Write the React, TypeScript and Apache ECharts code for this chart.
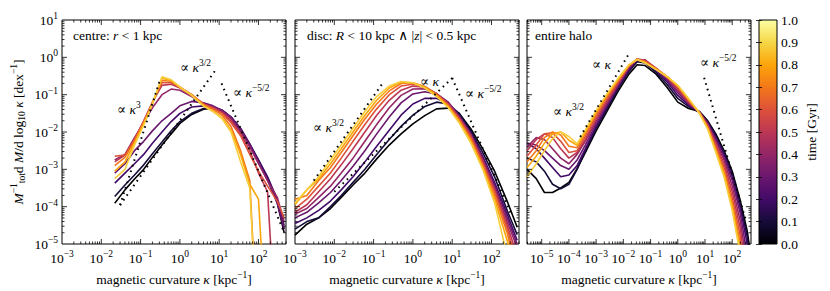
import React, { useEffect, useRef } from 'react';
import * as echarts from 'echarts';

const FONT = "'Liberation Serif', 'DejaVu Serif', serif";

// snapshot times [Gyr]
const TIMES = [0, 0.1, 0.2, 0.3, 0.4, 0.5, 0.6, 0.7, 0.8, 0.88];
const COLORBAR_TICKS = [0, 0.1, 0.2, 0.3, 0.4, 0.5, 0.6, 0.7, 0.8, 0.9, 1.0];
const INFERNO = ['#000004', '#160b39', '#420a68', '#6a176e', '#932667', '#bc3754', '#dd513a', '#f37819', '#fca50a', '#f6d746', '#fcffa4'];

// ---------- centre: r < 1 kpc ----------
const CENTRE_KAPPA = [0.022, 0.04, 0.07, 0.12, 0.2, 0.35, 0.6, 1, 2, 4, 7, 12, 20, 35, 60, 100, 170, 300, 450];
// log10 of the pdf, one row per time
const CENTRE_LOG_PDF = [
  [-3.91, -3.55, -3.26, -3.0, -2.68, -2.35, -2.05, -1.77, -1.53, -1.39, -1.36, -1.43, -1.62, -1.95, -2.37, -2.8, -3.25, -3.9, -4.7],
  [-3.73, -3.42, -3.15, -2.88, -2.58, -2.27, -1.97, -1.72, -1.5, -1.37, -1.35, -1.42, -1.6, -1.92, -2.33, -2.76, -3.22, -3.85, -4.6],
  [-3.37, -3.1, -2.85, -2.6, -2.3, -2.0, -1.72, -1.5, -1.33, -1.3, -1.33, -1.42, -1.6, -1.9, -2.32, -2.75, -3.2, -3.8, -4.5],
  [-3.1, -2.85, -2.5, -2.25, -1.97, -1.7, -1.5, -1.3, -1.18, -1.22, -1.3, -1.42, -1.6, -1.92, -2.35, -2.8, -3.3, -3.9, -4.6],
  [-2.75, -2.6, -2.15, -1.75, -1.35, -1.0, -0.85, -0.88, -1.05, -1.25, -1.33, -1.45, -1.65, -2.0, -2.4, -2.85, -3.3, -3.75, -4.4],
  [-2.8, -2.62, -2.2, -1.7, -1.2, -0.75, -0.72, -0.82, -1.02, -1.25, -1.35, -1.48, -1.7, -2.05, -2.5, -3.1, -3.6, -8],
  [-2.65, -2.62, -2.2, -1.72, -1.22, -0.68, -0.68, -0.8, -1.0, -1.25, -1.37, -1.5, -1.75, -2.1, -2.6, -3.05, -3.45, -3.85, -4.3],
  [-2.9, -2.68, -2.25, -1.75, -1.23, -0.62, -0.64, -0.8, -1.0, -1.27, -1.4, -1.55, -1.85, -2.5, -3.3, -8],
  [-3.05, -2.8, -2.3, -1.78, -1.24, -0.56, -0.62, -0.8, -1.02, -1.3, -1.45, -1.62, -1.95, -2.6, -3.4, -3.8, -8],
  [-3.25, -3.0, -2.35, -1.82, -1.25, -0.52, -0.6, -0.8, -1.02, -1.3, -1.45, -1.65, -2.0, -2.8, -3.5, -8],
];
const CENTRE_GUIDE_K3 = [[0.03, 1.1e-4], [0.32, 0.27]];
const CENTRE_GUIDE_K32 = [[0.03, 1.1e-4], [8.6, 0.5]];
const CENTRE_GUIDE_KM52 = [[11.5, 0.2], [430, 2.3e-5]];

// ---------- disc ----------
const DISC_KAPPA = [0.001, 0.002, 0.004, 0.008, 0.015, 0.03, 0.06, 0.12, 0.25, 0.5, 1, 2, 4, 8, 15, 30, 60, 120, 250, 450];
const DISC_LOG_PDF = [
  [-4.76, -4.47, -4.3, -4.05, -3.75, -3.42, -3.1, -2.72, -2.35, -2.05, -1.78, -1.56, -1.38, -1.36, -1.5, -1.92, -2.45, -3.05, -3.85, -4.55],
  [-4.6, -4.4, -4.3, -4.0, -3.7, -3.35, -3.0, -2.6, -2.2, -1.85, -1.55, -1.32, -1.2, -1.25, -1.5, -1.98, -2.55, -3.2, -4.1, -4.75],
  [-4.45, -4.3, -4.1, -3.85, -3.55, -3.2, -2.8, -2.38, -1.95, -1.55, -1.25, -1.1, -1.1, -1.25, -1.57, -2.03, -2.65, -3.35, -4.2, -4.9],
  [-4.3, -4.15, -3.9, -3.62, -3.3, -2.92, -2.5, -2.05, -1.6, -1.22, -0.98, -0.92, -0.98, -1.2, -1.57, -2.05, -2.7, -3.42, -4.3, -5.0],
  [-4.2, -4.05, -3.75, -3.45, -3.1, -2.7, -2.25, -1.8, -1.35, -1.02, -0.85, -0.84, -0.97, -1.22, -1.6, -2.08, -2.75, -3.5, -4.4, -5.1],
  [-4.15, -3.95, -3.6, -3.25, -2.88, -2.45, -2.0, -1.55, -1.15, -0.88, -0.77, -0.8, -0.97, -1.25, -1.62, -2.1, -2.78, -3.55, -4.5, -5.3],
  [-4.05, -3.8, -3.45, -3.1, -2.7, -2.25, -1.8, -1.38, -1.0, -0.77, -0.72, -0.78, -0.98, -1.28, -1.65, -2.15, -2.85, -3.6, -4.6, -5.5],
  [-3.8, -3.7, -3.3, -2.95, -2.55, -2.1, -1.65, -1.25, -0.9, -0.7, -0.68, -0.78, -1.0, -1.3, -1.68, -2.2, -2.9, -3.7, -4.7, -5.8],
  [-3.95, -3.55, -3.25, -2.85, -2.45, -2.0, -1.55, -1.15, -0.82, -0.67, -0.68, -0.8, -1.02, -1.33, -1.72, -2.25, -2.95, -3.8, -4.9, -6],
  [-3.9, -3.55, -3.2, -2.75, -2.35, -1.9, -1.45, -1.05, -0.77, -0.65, -0.68, -0.82, -1.05, -1.35, -1.75, -2.3, -3.0, -3.9, -5.3, -7],
];
const DISC_GUIDE_K32 = [[0.003, 5e-4], [0.18, 0.22]];
const DISC_GUIDE_K1 = [[0.01, 2.5e-4], [10, 0.28]];
const DISC_GUIDE_KM52 = [[10, 0.28], [310, 6.6e-5]];

// ---------- entire halo ----------
const HALO_KAPPA = [2.9e-6, 6.3e-6, 1.26e-5, 2.5e-5, 5e-5, 1e-4, 2e-4, 4e-4, 1e-3, 2.5e-3, 6.3e-3, 1.6e-2, 3.2e-2, 6.3e-2, 0.16, 0.4, 1, 2.5, 6.3, 12.6, 25, 50, 100, 200, 355, 480];
const HALO_LOG_PDF = [
  [-3.0, -3.25, -3.62, -3.62, -3.5, -3.35, -2.98, -2.55, -1.97, -1.45, -0.92, -0.45, -0.2, -0.22, -0.45, -0.8, -1.2, -1.37, -1.45, -1.7, -2.05, -2.5, -3.05, -3.85, -4.65, -5.3],
  [-2.7, -2.8, -3.05, -3.4, -3.52, -3.4, -3.0, -2.5, -1.9, -1.38, -0.85, -0.38, -0.12, -0.15, -0.4, -0.72, -1.1, -1.32, -1.47, -1.72, -2.1, -2.55, -3.1, -3.95, -4.8, -5.6],
  [-2.3, -2.45, -2.7, -2.95, -3.2, -3.15, -2.9, -2.45, -1.85, -1.32, -0.8, -0.33, -0.08, -0.1, -0.35, -0.65, -1.02, -1.28, -1.47, -1.75, -2.15, -2.6, -3.2, -4.05, -5.0, -6],
  [-2.3, -2.35, -2.5, -2.7, -2.9, -3.0, -2.75, -2.35, -1.78, -1.28, -0.77, -0.3, -0.06, -0.08, -0.32, -0.6, -0.95, -1.25, -1.47, -1.77, -2.2, -2.68, -3.3, -4.2, -5.3, -7],
  [-2.4, -2.15, -2.2, -2.45, -2.7, -2.85, -2.6, -2.25, -1.72, -1.22, -0.73, -0.27, -0.05, -0.07, -0.3, -0.56, -0.9, -1.22, -1.47, -1.8, -2.25, -2.75, -3.45, -4.4, -5.6, -8],
  [-2.5, -2.2, -2.05, -2.15, -2.45, -2.7, -2.55, -2.2, -1.65, -1.17, -0.7, -0.25, -0.05, -0.08, -0.29, -0.53, -0.85, -1.2, -1.48, -1.82, -2.32, -2.85, -3.6, -4.6, -6, -8],
  [-2.65, -2.35, -2.05, -2.02, -2.25, -2.55, -2.5, -2.12, -1.58, -1.1, -0.66, -0.23, -0.05, -0.1, -0.3, -0.52, -0.8, -1.17, -1.48, -1.85, -2.38, -2.95, -3.75, -4.8, -7, -8],
  [-2.8, -2.5, -2.15, -2.0, -2.08, -2.38, -2.42, -2.05, -1.52, -1.05, -0.62, -0.22, -0.05, -0.12, -0.31, -0.51, -0.77, -1.13, -1.49, -1.88, -2.45, -3.05, -3.9, -5.0, -7, -8],
  [-2.95, -2.65, -2.3, -2.05, -2.0, -2.22, -2.36, -2.0, -1.47, -1.0, -0.6, -0.21, -0.06, -0.14, -0.32, -0.51, -0.76, -1.12, -1.5, -1.9, -2.5, -3.12, -4.0, -5.2, -8, -8],
  [-3.2, -2.85, -2.5, -2.18, -2.0, -2.12, -2.32, -1.95, -1.43, -0.98, -0.57, -0.2, -0.06, -0.15, -0.33, -0.52, -0.75, -1.1, -1.5, -1.92, -2.55, -3.2, -4.1, -5.3, -8, -8],
];
const HALO_GUIDE_K1 = [[2.6e-4, 7.4e-3], [1.5e-2, 1.15]];
const HALO_GUIDE_KM52 = [[9.3, 0.285], [316, 4.3e-5]];

// axis ranges
const PDF_RANGE = [1e-5, 10];
const KAPPA_RANGE_INNER = [1e-3, Math.pow(10, 2.7)];
const KAPPA_RANGE_HALO = [Math.pow(10, -5.54), Math.pow(10, 2.69)];

function hexRgb(h: string) {
  return [parseInt(h.slice(1, 3), 16), parseInt(h.slice(3, 5), 16), parseInt(h.slice(5, 7), 16)];
}
function infernoAt(t: number) {
  const p = Math.max(0, Math.min(1, t)) * 10;
  const i = Math.min(9, Math.floor(p));
  const f = p - i;
  const a = hexRgb(INFERNO[i]);
  const b = hexRgb(INFERNO[i + 1]);
  const c = a.map((v, k) => Math.round(v + (b[k] - v) * f));
  return `rgb(${c[0]},${c[1]},${c[2]})`;
}

const FS = 13.5;
const FS_SUP = 9.5;

const LABEL_RICH = {
  b: { fontFamily: FONT, fontSize: FS, color: '#000', lineHeight: 18 },
  s: { fontFamily: FONT, fontSize: FS_SUP, color: '#000', verticalAlign: 'top', lineHeight: 9 },
  r: { fontFamily: FONT, fontSize: FS, color: '#000', lineHeight: 18 },
  i: { fontFamily: FONT, fontSize: FS, fontStyle: 'italic', color: '#000', lineHeight: 18 },
  u: { fontFamily: FONT, fontSize: FS_SUP, color: '#000', verticalAlign: 'bottom', lineHeight: 11 },
};
const TEXT_RICH = {
  r: { fontFamily: FONT, fontSize: FS, fill: '#000', lineHeight: 18 },
  i: { fontFamily: FONT, fontSize: FS, fontStyle: 'italic', fill: '#000', lineHeight: 18 },
  s: { fontFamily: FONT, fontSize: FS_SUP, fill: '#000', verticalAlign: 'top', lineHeight: 9 },
};

const X_NAME = '{r|magnetic curvature }{i|κ}{r| [kpc}{s|\u22121}{r|]}';
const Y_NAME = '{i|M}{s|\u22121}{u|tot}{r|d }{i|M}{r|/d log}{u|10}{r| }{i|κ}{r| [dex}{s|\u22121}{r|]}';

function powLabel(v: number) {
  const l = Math.log10(v);
  const e = Math.round(l);
  if (Math.abs(l - e) > 1e-6) return '';
  return `{b|10}{s|${e < 0 ? '\u2212' + -e : e}}`;
}

const GRIDS = [
  { left: 62, top: 20, width: 224, height: 224 },
  { left: 295, top: 20, width: 224, height: 224 },
  { left: 527, top: 20, width: 224, height: 224 },
];

function tickSeries(g: number, xr: number[], yr: number[]) {
  return {
    type: 'custom',
    xAxisIndex: g,
    yAxisIndex: g,
    silent: true,
    z: 10,
    data: [[1, 1]],
    renderItem: (_p: any, api: any) => {
      const children: any[] = [];
      const bl = api.coord([xr[0], yr[0]]);
      const tr = api.coord([xr[1], yr[1]]);
      const line = (x1: number, y1: number, x2: number, y2: number) =>
        children.push({ type: 'line', shape: { x1, y1, x2, y2 }, style: { stroke: '#000', lineWidth: 0.8 } });
      const lx0 = Math.log10(xr[0]), lx1 = Math.log10(xr[1]);
      for (let d = Math.floor(lx0); d <= Math.ceil(lx1); d++) {
        for (let m = 1; m <= 9; m++) {
          const v = m * Math.pow(10, d);
          const l = Math.log10(v);
          if (l <= lx0 + 1e-6 || l >= lx1 - 1e-6) continue;
          const px = api.coord([v, yr[0]])[0];
          const len = m === 1 ? 5 : 2.5;
          line(px, bl[1], px, bl[1] - len);
          line(px, tr[1], px, tr[1] + len);
        }
      }
      const ly0 = Math.log10(yr[0]), ly1 = Math.log10(yr[1]);
      for (let d = Math.floor(ly0); d <= Math.ceil(ly1); d++) {
        for (let m = 1; m <= 9; m++) {
          const v = m * Math.pow(10, d);
          const l = Math.log10(v);
          if (l <= ly0 + 1e-6 || l >= ly1 - 1e-6) continue;
          const py = api.coord([xr[0], v])[1];
          const len = m === 1 ? 5 : 2.5;
          line(bl[0], py, bl[0] + len, py);
          line(tr[0], py, tr[0] - len, py);
        }
      }
      return { type: 'group', children };
    },
  };
}

function curveSeries(g: number, xs: number[], rows: number[][]) {
  return rows.map((row, k) => ({
    type: 'line',
    xAxisIndex: g,
    yAxisIndex: g,
    silent: true,
    symbol: 'none',
    showSymbol: false,
    data: row.map((ly, j) => [xs[j], Math.pow(10, ly)]),
    lineStyle: { color: infernoAt(TIMES[k]), width: 1.6 },
    z: 2,
  }));
}

function guideSeries(g: number, pts: number[][]) {
  return {
    type: 'line',
    xAxisIndex: g,
    yAxisIndex: g,
    silent: true,
    symbol: 'none',
    data: pts,
    lineStyle: { color: '#000', width: 2, type: [1.6, 4.2] },
    z: 4,
  };
}

function textEl(x: number, y: number, text: string) {
  return {
    type: 'text',
    x,
    y,
    silent: true,
    style: { text, rich: TEXT_RICH, fontFamily: FONT, fontSize: FS, fill: '#000', align: 'left', verticalAlign: 'middle' },
  };
}

export default function App() {
  const ref = useRef<HTMLDivElement>(null);
  useEffect(() => {
    if (!ref.current) return;
    const chart = echarts.init(ref.current, undefined, { renderer: 'svg' });
    const xRanges = [KAPPA_RANGE_INNER, KAPPA_RANGE_INNER, KAPPA_RANGE_HALO];

    const xAxes: any[] = xRanges.map((r, g) => ({
      type: 'log',
      logBase: 10,
      gridIndex: g,
      min: r[0],
      max: r[1],
      axisLine: { show: false },
      axisTick: { show: false },
      splitLine: { show: false },
      axisLabel: { formatter: powLabel, rich: LABEL_RICH, margin: 5 },
      name: X_NAME,
      nameLocation: 'middle',
      nameGap: 26,
      nameTextStyle: { rich: LABEL_RICH, fontFamily: FONT, fontSize: FS, color: '#000' },
    }));
    xAxes.push({ type: 'value', gridIndex: 3, min: 0, max: 1, show: false });

    const yAxes: any[] = [0, 1, 2].map((g) => ({
      type: 'log',
      logBase: 10,
      gridIndex: g,
      min: PDF_RANGE[0],
      max: PDF_RANGE[1],
      axisLine: { show: false },
      axisTick: { show: false },
      splitLine: { show: false },
      axisLabel: { show: g === 0, formatter: powLabel, rich: LABEL_RICH, margin: 4 },
      name: g === 0 ? Y_NAME : '',
      nameLocation: 'middle',
      nameGap: 35,
      nameRotate: 90,
      nameTextStyle: { rich: LABEL_RICH, fontFamily: FONT, fontSize: FS, color: '#000' },
    }));
    yAxes.push({
      type: 'value',
      gridIndex: 3,
      position: 'right',
      min: 0,
      max: 1,
      interval: 0.1,
      z: 5,
      axisLine: { show: false },
      splitLine: { show: false },
      axisTick: { show: true, inside: true, length: 3, lineStyle: { color: '#000', width: 0.8 } },
      axisLabel: {
        formatter: (v: number) => (COLORBAR_TICKS.some((t) => Math.abs(t - v) < 1e-6) ? v.toFixed(1) : ''),
        fontFamily: FONT,
        fontSize: FS,
        color: '#000',
        margin: 4,
      },
      name: 'time [Gyr]',
      nameLocation: 'middle',
      nameGap: 27,
      nameRotate: 90,
      nameTextStyle: { fontFamily: FONT, fontSize: FS, color: '#000' },
    });
    yAxes.push({
      type: 'value',
      gridIndex: 3,
      position: 'left',
      min: 0,
      max: 1,
      interval: 0.1,
      z: 5,
      axisLine: { show: false },
      splitLine: { show: false },
      axisTick: { show: true, inside: true, length: 3, lineStyle: { color: '#000', width: 0.8 } },
      axisLabel: { show: false },
    });

    const series: any[] = [
      ...curveSeries(0, CENTRE_KAPPA, CENTRE_LOG_PDF),
      ...curveSeries(1, DISC_KAPPA, DISC_LOG_PDF),
      ...curveSeries(2, HALO_KAPPA, HALO_LOG_PDF),
      guideSeries(0, CENTRE_GUIDE_K3),
      guideSeries(0, CENTRE_GUIDE_K32),
      guideSeries(0, CENTRE_GUIDE_KM52),
      guideSeries(1, DISC_GUIDE_K32),
      guideSeries(1, DISC_GUIDE_K1),
      guideSeries(1, DISC_GUIDE_KM52),
      guideSeries(2, HALO_GUIDE_K1),
      guideSeries(2, HALO_GUIDE_KM52),
      tickSeries(0, KAPPA_RANGE_INNER, PDF_RANGE),
      tickSeries(1, KAPPA_RANGE_INNER, PDF_RANGE),
      tickSeries(2, KAPPA_RANGE_HALO, PDF_RANGE),
      {
        type: 'custom',
        xAxisIndex: 3,
        yAxisIndex: 3,
        silent: true,
        z: 1,
        data: [[0.5, 0.5]],
        renderItem: (_p: any, api: any) => {
          const a = api.coord([0, 0]);
          const b = api.coord([1, 1]);
          return {
            type: 'rect',
            shape: { x: a[0], y: b[1], width: b[0] - a[0], height: a[1] - b[1] },
            style: {
              fill: new echarts.graphic.LinearGradient(0, 1, 0, 0, INFERNO.map((c, i) => ({ offset: i / 10, color: c }))),
              stroke: '#000',
              lineWidth: 1,
            },
          };
        },
      },
    ];

    chart.setOption({
      animation: false,
      backgroundColor: '#fff',
      grid: [
        ...GRIDS.map((g) => ({ ...g, show: true, borderColor: '#000', borderWidth: 1, backgroundColor: 'transparent' })),
        { left: 759, top: 20, width: 18, height: 224, show: false },
      ],
      xAxis: xAxes,
      yAxis: yAxes,
      series,
      graphic: [
        textEl(73, 35, '{r|centre: }{i|r}{r| < 1 kpc}'),
        textEl(180, 67, '{r|\u221d }{i|κ}{s|3/2}'),
        textEl(233, 92, '{r|\u221d }{i|κ}{s|\u22125/2}'),
        textEl(117, 109, '{r|\u221d }{i|κ}{s|3}'),
        textEl(307, 35, '{r|disc: }{i|R}{r| < 10 kpc \u2227 |}{i|z}{r|| < 0.5 kpc}'),
        textEl(420, 81, '{r|\u221d }{i|κ}'),
        textEl(465, 93, '{r|\u221d }{i|κ}{s|\u22125/2}'),
        textEl(313, 127, '{r|\u221d }{i|κ}{s|3/2}'),
        textEl(535, 35, '{r|entire halo}'),
        textEl(592, 64, '{r|\u221d }{i|κ}'),
        textEl(553, 111, '{r|\u221d }{i|κ}{s|3/2}'),
        textEl(700, 62, '{r|\u221d }{i|κ}{s|\u22125/2}'),
      ],
    });
    return () => chart.dispose();
  }, []);
  return <div ref={ref} style={{ position: 'fixed', left: 0, top: 0, width: 830, height: 291 }} />;
}
